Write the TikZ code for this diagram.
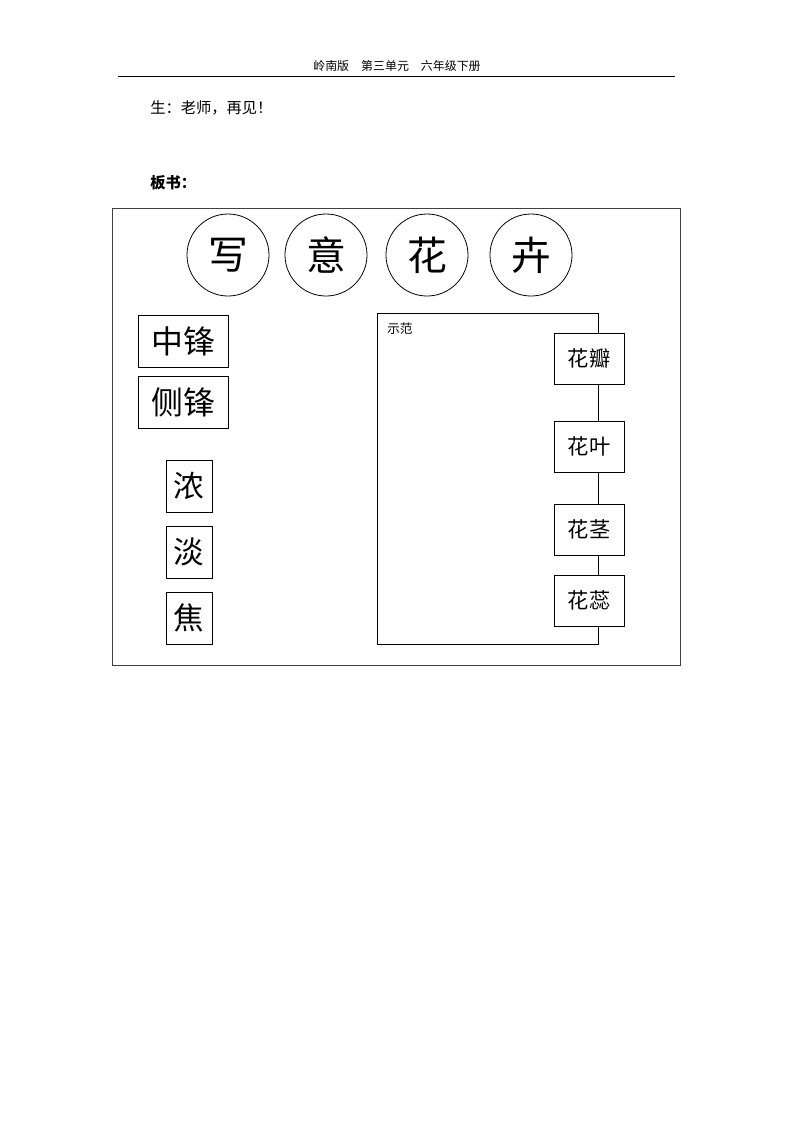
\documentclass[tikz,border=0pt]{standalone}
\usepackage{fontspec}
\setmainfont{Noto Sans CJK SC}
\usetikzlibrary{positioning}
\tikzset{frame/.style={draw,line width=0.6pt},
  word/.style={draw,fill=white,line width=0.6pt,inner sep=0pt,align=center}}

\begin{document}
\begin{tikzpicture}[x=0.2646mm,y=-0.2646mm,
 ch/.style={circle,draw,line width=0.6pt,minimum size=21.7mm,inner sep=0pt,font=\fontsize{30}{32}\selectfont},
 big/.style={word,minimum width=23.8mm,minimum height=13.8mm,font=\fontsize{24}{26}\selectfont},
 one/.style={word,minimum width=12.2mm,minimum height=13.8mm,font=\fontsize{23}{25}\selectfont},
 part/.style={word,minimum width=18.5mm,minimum height=13.5mm,font=\fontsize{16}{18}\selectfont}]
\useasboundingbox (0,0) rectangle (794,1123);
% page head
\node[font=\fontsize{9}{11}\selectfont] (head) at (397,66) {岭南版　第三单元　六年级下册};
\draw[line width=0.6pt] (118,76) -- (675,76);
\node[anchor=west,inner sep=0pt,font=\fontsize{11.5}{13}\selectfont] (bye) at (150,108) {生：老师，再见！};
\node[anchor=west,inner sep=0pt,font=\fontsize{11.5}{13}\selectfont\bfseries] (bs) at (150,183) {板书：};
% board
\draw[frame,draw=black!75] (112,208) rectangle (680,665);
\node[ch] (c1) at (228,255) {写};
\node[ch] (c2) at (326,255) {意};
\node[ch] (c3) at (427,255) {花};
\node[ch] (c4) at (531,255) {卉};
\node[big] (zf) at (183,341) {中锋};
\node[big] (cf) at (183,402) {侧锋};
\node[one] (nong) at (189,486) {浓};
\node[one] (dan) at (189,552) {淡};
\node[one] (jiao) at (189,618) {焦};
% demo area
\draw[frame] (377,313) rectangle (598,644);
\node[anchor=north west,inner sep=0pt,font=\fontsize{9.5}{11}\selectfont] (sf) at (387,323) {示范};
\node[part] (hb) at (589,358.5) {花瓣};
\node[part] (hy) at (589,446.5) {花叶};
\node[part] (hj) at (589,529.5) {花茎};
\node[part] (hr) at (589,600.5) {花蕊};
\end{tikzpicture}
\end{document}
